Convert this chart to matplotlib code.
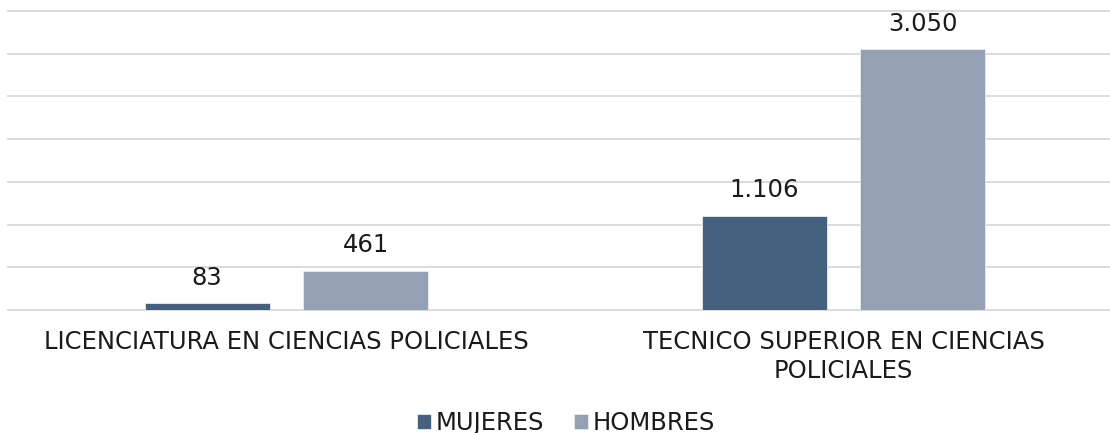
import matplotlib
matplotlib.use("Agg")
import matplotlib.pyplot as plt
import numpy as np

categories = ["LICENCIATURA EN CIENCIAS POLICIALES", "TECNICO SUPERIOR EN CIENCIAS\nPOLICIALES"]
series_names = ["MUJERES", "HOMBRES"]
mujeres = [83, 1106]
hombres = [461, 3050]
colors = ["#46607f", "#94a1b4"]

plt.rcParams['font.family'] = ['DejaVu Sans']
FS = 17.5

W, H = 1110, 433
fig = plt.figure(figsize=(W / 100, H / 100), dpi=100)
ax = fig.add_axes([8 / W, (H - 310) / H, (1122 - 8) / W, 299 / H])

x = np.arange(len(categories))
bw = 0.224
off = 0.1425
values = [mujeres, hombres]
for i, (name, vals) in enumerate(zip(series_names, values)):
    pos = x + (-off if i == 0 else off)
    bars = ax.bar(pos, vals, width=bw, color=colors[i], edgecolor="#e8ecf1", linewidth=0.6,
                  label=name, zorder=3)
    for b, v in zip(bars, vals):
        lbl = f"{v:,}".replace(",", ".")
        ax.annotate(lbl, (b.get_x() + b.get_width() / 2, v), xytext=(0, 9.5),
                    textcoords="offset points", ha="center", va="bottom",
                    fontsize=FS, color="#1a1a1a")

ax.set_xlim(-0.5, 1.5)
ax.set_ylim(0, 3500)
ax.set_yticks(np.arange(0, 3501, 500))
ax.yaxis.grid(True, color="#d9d9d9", linewidth=1.3, zorder=0)
for gl in ax.get_ygridlines():
    gl.set_clip_on(False)
ax.tick_params(axis="y", left=False, labelleft=False)
ax.tick_params(axis="x", bottom=False, pad=11)
ax.set_xticks(x)
ax.set_xticklabels(categories, fontsize=FS, color="#1a1a1a", linespacing=1.28)
for s in ax.spines.values():
    s.set_visible(False)

leg = fig.legend(loc="center", bbox_to_anchor=(566 / W, 1 - 423 / H), ncol=2, frameon=False,
                 fontsize=FS, handlelength=0.6, handleheight=0.6, handletextpad=0.2,
                 columnspacing=1.2)
for t in leg.get_texts():
    t.set_color("#1a1a1a")

fig.savefig("out.png", dpi=100)
